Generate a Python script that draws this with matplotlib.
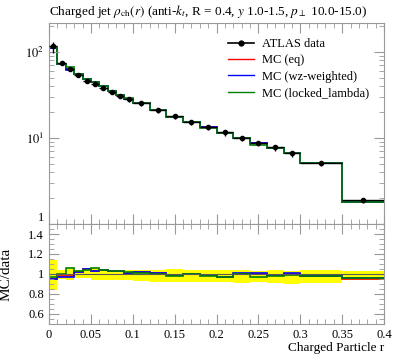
import numpy as np
import matplotlib
matplotlib.use("Agg")
import matplotlib.pyplot as plt
from matplotlib.lines import Line2D
from matplotlib.ticker import MultipleLocator, FixedLocator, NullFormatter, LogLocator, FixedFormatter

plt.rcParams['font.family'] = ['Liberation Serif', 'DejaVu Serif']
plt.rcParams['mathtext.fontset'] = 'stix'

edges = [0.0, 0.01, 0.02, 0.03, 0.04, 0.05, 0.06, 0.07, 0.08, 0.09, 0.10,
         0.12, 0.14, 0.16, 0.18, 0.20, 0.22, 0.24, 0.26, 0.28, 0.30, 0.35, 0.40]

data = [116, 73.5, 63.6, 54.0, 46.4, 42.9, 38.5, 34.5, 31.1, 28.2, 25.3,
        21.05, 17.9, 15.2, 13.5, 11.6, 10.0, 8.63, 7.8, 6.72, 5.16, 1.88]
data_err_hi = [0.14, 0.04, 0.057, 0.04, 0.04, 0.057, 0.04, 0.04, 0.04, 0.04, 0.04,
               0.04, 0.05, 0.04, 0.04, 0.04, 0.04, 0.03, 0.04, 0.03, 0.04, 0.035]
data_err_lo = [0.16, 0.05, 0.06, 0.043, 0.043, 0.06, 0.06, 0.06, 0.06, 0.06, 0.07,
               0.075, 0.075, 0.08, 0.08, 0.08, 0.085, 0.075, 0.09, 0.095, 0.09, 0.06]

mc_eq = [110.2, 72.0, 62.6, 55.2, 48.6, 44.4, 40.0, 35.5, 31.9, 28.6, 25.7,
         21.3, 17.7, 15.25, 13.3, 11.3, 10.03, 8.63, 7.72, 6.72, 5.07, 1.78]
mc_wz = [110.2, 71.5, 61.9, 55.2, 48.5, 44.2, 39.9, 35.5, 31.9, 28.6, 25.7,
         21.2, 17.7, 15.25, 13.4, 11.3, 10.07, 8.69, 7.72, 6.77, 5.07, 1.80]
mc_locked = [113.1, 73.3, 67.2, 55.4, 48.4, 45.3, 40.0, 35.5, 31.9, 28.8, 25.6,
             21.0, 17.6, 15.15, 13.2, 11.3, 9.97, 8.37, 7.68, 6.63, 5.05, 1.80]

series = [("MC (eq)", mc_eq, "red"),
          ("MC (wz-weighted)", mc_wz, "blue"),
          ("MC (locked_lambda)", mc_locked, "green")]

title = r'Charged jet $\rho_{\rm ch}(r)$ (anti-$k_t$, R = 0.4, $y$ 1.0-1.5, $p_\perp$ 10.0-15.0)'

W, H = 397, 358
fig = plt.figure(figsize=(W / 100, H / 100), dpi=100)
L, R = 49 / W, 384 / W
ax = fig.add_axes([L, 1 - 224 / H, R - L, (224 - 23) / H])
axr = fig.add_axes([L, 1 - 324 / H, R - L, (324 - 224) / H])

e = np.array(edges)
c = 0.5 * (e[1:] + e[:-1])
hw = 0.5 * (e[1:] - e[:-1])
d = np.array(data)
ehi = np.array(data_err_hi)
elo = np.array(data_err_lo)

# main panel
handles = [Line2D([], [], color='black', marker='o', ms=3.5, lw=1.2)]
labels = ['ATLAS data']
for name, vals, col in series:
    ax.stairs(vals, edges, color=col, lw=1.2, baseline=None)
    handles.append(Line2D([], [], color=col, lw=1.0))
    labels.append(name)
ax.errorbar(c, d, xerr=hw, yerr=[d * elo, d * ehi], fmt='o', color='black',
            ms=3, lw=1.0, capsize=0, zorder=5)

ax.set_yscale('log')
ax.set_xlim(0, 0.4)
ax.set_ylim(1, 217)
ax.xaxis.set_major_locator(MultipleLocator(0.05))
ax.xaxis.set_minor_locator(MultipleLocator(0.01))
ax.xaxis.set_major_formatter(NullFormatter())
ax.yaxis.set_major_locator(FixedLocator([1, 10, 100]))
ax.yaxis.set_major_formatter(FixedFormatter(['1', r'$10^{1}$', r'$10^{2}$']))
ax.yaxis.set_minor_locator(LogLocator(base=10, subs=np.arange(2, 10)))
ax.yaxis.set_minor_formatter(NullFormatter())
ax.set_title(title, fontsize=9.5, loc='left', x=0.0, pad=6)

ax.legend(handles, labels,
          loc='upper left', bbox_to_anchor=(0.52, 0.95), frameon=False,
          fontsize=9, handlelength=2.1, handletextpad=0.6, labelspacing=0.35,
          borderaxespad=0)

# ratio panel
axr.stairs(1 + ehi, edges, baseline=1 - elo, fill=True, color='#ffff00', lw=0)
axr.axhline(1, color='0.35', lw=0.8)
for name, vals, col in series:
    axr.stairs(np.array(vals) / d, edges, color=col, lw=1.2, baseline=None)
axr.set_xlim(0, 0.4)
axr.set_ylim(0.5, 1.5)
axr.xaxis.set_major_locator(FixedLocator([0, 0.05, 0.1, 0.15, 0.2, 0.25, 0.3, 0.35, 0.4]))
axr.xaxis.set_major_formatter(FixedFormatter(['0', '0.05', '0.1', '0.15', '0.2', '0.25', '0.3', '0.35', '0.4']))
axr.xaxis.set_minor_locator(MultipleLocator(0.01))
axr.yaxis.set_major_locator(FixedLocator([0.6, 0.8, 1.0, 1.2, 1.4]))
axr.yaxis.set_major_formatter(FixedFormatter(['0.6', '0.8', '1', '1.2', '1.4']))
axr.yaxis.set_minor_locator(MultipleLocator(0.05))
axr.set_ylabel('MC/data', fontsize=11)
axr.yaxis.set_label_coords(-0.11, 0.5)
axr.set_xlabel('Charged Particle r', fontsize=9.5, loc='right')
axr.xaxis.labelpad = 1

for a in (ax, axr):
    for s in a.spines.values():
        s.set_color('0.6')
    a.tick_params(which='both', direction='in', top=True, right=True, color='0.6',
                  labelsize=9)
    a.tick_params(which='major', length=7)
    a.tick_params(which='minor', length=3.5)

# keep main-panel "1" label clear of ratio "1.4"
for lbl in ax.get_yticklabels():
    if lbl.get_text() == '1':
        lbl.set_va('bottom')

fig.savefig('out.png', dpi=100)
